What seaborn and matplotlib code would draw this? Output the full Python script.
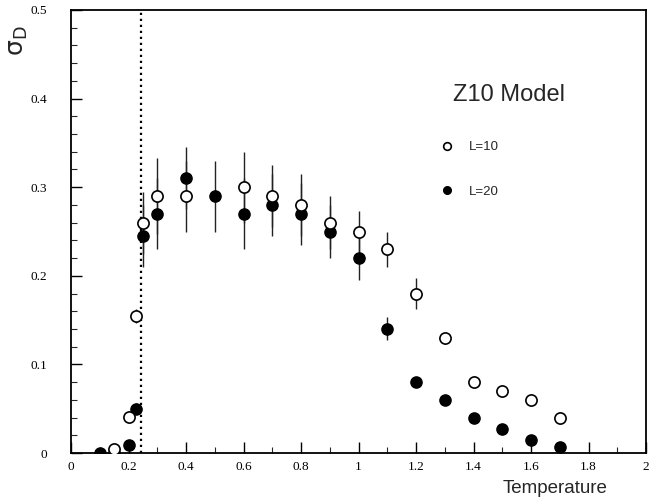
import matplotlib
matplotlib.use("Agg")
import matplotlib.pyplot as plt
from matplotlib.ticker import MultipleLocator, FuncFormatter
import seaborn as sns
import pandas as pd
from matplotlib.lines import Line2D

# ---- data ----
t_l10 = [0.15, 0.2, 0.225, 0.25, 0.3, 0.4, 0.6, 0.7, 0.8, 0.9, 1.0, 1.1, 1.2, 1.3, 1.4, 1.5, 1.6, 1.7]
s_l10 = [0.005, 0.041, 0.155, 0.26, 0.29, 0.29, 0.30, 0.29, 0.28, 0.26, 0.25, 0.23, 0.18, 0.13, 0.08, 0.07, 0.06, 0.04]
e_l10 = [0.004, 0.004, 0.008, 0.035, 0.043, 0.04, 0.04, 0.035, 0.035, 0.03, 0.023, 0.02, 0.017, 0.005, 0.0, 0.0, 0.0, 0.0]

t_l20 = [0.1, 0.15, 0.2, 0.225, 0.25, 0.3, 0.4, 0.5, 0.6, 0.7, 0.8, 0.9, 1.0, 1.1, 1.2, 1.3, 1.4, 1.5, 1.6, 1.7]
s_l20 = [0.0, 0.0, 0.009, 0.05, 0.245, 0.27, 0.31, 0.29, 0.27, 0.28, 0.27, 0.25, 0.22, 0.14, 0.08, 0.06, 0.04, 0.027, 0.015, 0.007]
e_l20 = [0.003, 0.003, 0.004, 0.006, 0.035, 0.04, 0.035, 0.04, 0.04, 0.035, 0.035, 0.03, 0.025, 0.013, 0.005, 0.004, 0.0, 0.0, 0.0, 0.0]

t_crit = 0.245
labels = ["L=10", "L=20"]
title_text = "Z10 Model"

df10 = pd.DataFrame({"T": t_l10, "s": s_l10, "e": e_l10})
df20 = pd.DataFrame({"T": t_l20, "s": s_l20, "e": e_l20})

sns.set_style("ticks")
plt.rcParams["font.family"] = ["Liberation Serif", "DejaVu Serif"]
plt.rcParams["mathtext.default"] = "regular"

fig = plt.figure(figsize=(6.51, 4.97), dpi=100)
ax = fig.add_axes([71 / 651, 1 - 453 / 497, 575 / 651, 443 / 497])

# error bars
ax.errorbar(df20["T"], df20["s"], yerr=df20["e"], fmt="none", ecolor="#222222",
            elinewidth=1.0, capsize=0, zorder=2)
ax.errorbar(df10["T"], df10["s"], yerr=df10["e"], fmt="none", ecolor="#222222",
            elinewidth=1.0, capsize=0, zorder=2)

# points
sns.scatterplot(data=df20, x="T", y="s", ax=ax, marker="o", s=65, color="black",
                edgecolor="black", linewidth=1.0, zorder=3, legend=False)
sns.scatterplot(data=df10, x="T", y="s", ax=ax, marker="o", s=65, facecolor="white",
                edgecolor="black", linewidth=1.2, zorder=4, legend=False)

# critical temperature line
ax.axvline(t_crit, color="black", linestyle=(0, (1, 1.7)), linewidth=1.6, zorder=1)

ax.set_xlim(0, 2)
ax.set_ylim(0, 0.5)

ax.xaxis.set_major_locator(MultipleLocator(0.2))
ax.xaxis.set_minor_locator(MultipleLocator(0.1))
ax.yaxis.set_major_locator(MultipleLocator(0.1))
ax.yaxis.set_minor_locator(MultipleLocator(0.02))

fmt = FuncFormatter(lambda v, p: ("%g" % round(v, 3)))
ax.xaxis.set_major_formatter(fmt)
ax.yaxis.set_major_formatter(fmt)

ax.tick_params(axis="both", which="major", direction="in", length=8, width=1.0,
               labelsize=9.5, colors="black")
ax.tick_params(axis="x", which="major", pad=6)
ax.tick_params(axis="y", which="major", pad=17)
ax.tick_params(axis="both", which="minor", direction="in", length=4, width=0.8)

for sp in ax.spines.values():
    sp.set_visible(True)
    sp.set_color("black")
    sp.set_linewidth(1.3)

ax.set_xlabel("Temperature", fontsize=13.5, family=["Liberation Sans", "DejaVu Sans"])
ax.xaxis.set_label_coords(0.842, -0.062)
ax.set_ylabel(r"$\sigma_D$", fontsize=18, family=["DejaVu Sans"])
ax.yaxis.set_label_coords(-0.072, 0.93)

ax.text(0.762, 0.808, title_text, transform=ax.transAxes, fontsize=17,
        family=["Liberation Sans", "DejaVu Sans"], ha="center", va="center")

handles = [
    Line2D([], [], marker="o", linestyle="none", markersize=5.5, markerfacecolor="white",
           markeredgecolor="black", markeredgewidth=1.2),
    Line2D([], [], marker="o", linestyle="none", markersize=5.5, markerfacecolor="black",
           markeredgecolor="black"),
]
leg = ax.legend(handles, labels, loc="upper left", bbox_to_anchor=(0.611, 0.731),
                frameon=False, labelspacing=2.45, handletextpad=0.6,
                prop={"family": ["Liberation Sans", "DejaVu Sans"], "size": 9.5})

fig.savefig("out.png", dpi=100)
